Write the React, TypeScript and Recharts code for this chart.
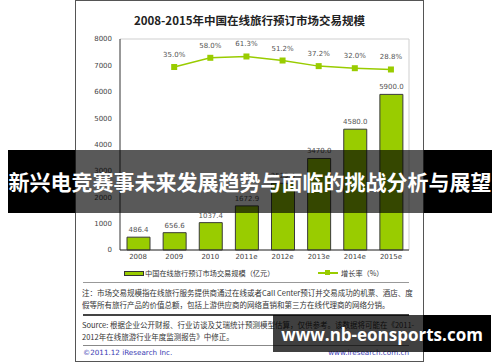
import {
  ComposedChart,
  Bar,
  Line,
  XAxis,
  YAxis,
  CartesianGrid,
  LabelList,
} from "recharts";

const years = ["2008", "2009", "2010", "2011e", "2012e", "2013e", "2014e", "2015e"];
const marketSize = [486.4, 656.6, 1037.4, 1672.9, 2529.4, 3470.0, 4580.0, 5900.0];
const growthRate = [null, 35.0, 58.0, 61.3, 51.2, 37.2, 32.0, 28.8];
const yTicks = [0, 1000, 2000, 3000, 4000, 5000, 6000, 7000, 8000];

const GREEN = "#99cc00";
const FONT = "'DejaVu Sans', 'Noto Sans CJK SC', sans-serif";
const CJK = "'Noto Sans CJK SC', 'DejaVu Sans', sans-serif";

const data = years.map((y, i) => ({
  name: y,
  size: marketSize[i],
  rate: growthRate[i],
}));

// small square markers like the original
const SquareDot = (props: any) => {
  const { cx, cy, value } = props;
  if (value == null || cx == null || cy == null) return null;
  return <rect x={cx - 3} y={cy - 3} width={6} height={6} fill={GREEN} />;
};

const abs = (s: React.CSSProperties): React.CSSProperties => ({ position: "absolute", ...s });

export default function App() {
  return (
    <div
      style={abs({
        left: 0,
        top: 0,
        width: 500,
        height: 362,
        background: "#fff",
        overflow: "hidden",
        fontFamily: CJK,
      })}
    >
      {/* outer frame */}
      <div style={abs({ left: 75, top: 0, width: 347, height: 360, border: "1px solid #555" })} />

      <div
        style={abs({
          left: 75,
          width: 349,
          top: 12,
          textAlign: "center",
          fontSize: 11.5,
          fontWeight: 600,
          color: "#222",
          lineHeight: "16px",
        })}
      >
        2008-2015年中国在线旅行预订市场交易规模
      </div>

      <div style={abs({ left: 0, top: 0 })}>
        <ComposedChart
          width={500}
          height={362}
          data={data}
          margin={{ top: 39, right: 91, left: 0, bottom: 82 }}
        >
          <CartesianGrid
            vertical={true}
            verticalPoints={[409]}
            stroke="#cfcfcf"
          />
          <XAxis
            dataKey="name"
            axisLine={{ stroke: "#333" }}
            tickLine={false}
            tickSize={2}
            tickMargin={2}
            tick={{ fill: "#444", fontSize: 7, fontFamily: FONT }}
            interval={0}
          />
          <YAxis
            yAxisId="left"
            width={120}
            domain={[0, 8000]}
            ticks={yTicks}
            axisLine={{ stroke: "#333" }}
            tickLine={false}
            tick={{ fill: "#444", fontSize: 7, fontFamily: FONT }}
          />
          <YAxis yAxisId="right" orientation="right" hide domain={[-422.5, 105]} />
          <Bar
            yAxisId="left"
            dataKey="size"
            fill={GREEN}
            stroke="#3a3a3a"
            strokeWidth={1}
            barSize={23}
            isAnimationActive={false}
          >
            <LabelList
              dataKey="size"
              position="top"
              offset={5}
              formatter={(v: any) => Number(v).toFixed(1)}
              style={{ fill: "#555", fontSize: 7, fontFamily: FONT }}
            />
          </Bar>
          <Line
            yAxisId="right"
            dataKey="rate"
            stroke={GREEN}
            strokeWidth={1.5}
            dot={<SquareDot />}
            activeDot={false}
            isAnimationActive={false}
          >
            <LabelList
              dataKey="rate"
              position="top"
              offset={10}
              formatter={(v: any) => (v == null ? "" : `${Number(v).toFixed(1)}%`)}
              style={{ fill: "#555", fontSize: 7, fontFamily: FONT }}
            />
          </Line>
        </ComposedChart>
      </div>

      {/* legend */}
      <div style={abs({ left: 124, top: 271, width: 18, height: 3, background: GREEN, border: "1px solid #333" })} />
      <div style={abs({ left: 145, top: 267, fontSize: 7.2, color: "#333", lineHeight: "12px" })}>
        中国在线旅行预订市场交易规模（亿元）
      </div>
      <div style={abs({ left: 318, top: 272, width: 20, height: 1.5, background: GREEN })} />
      <div style={abs({ left: 325, top: 270, width: 5, height: 5, background: GREEN })} />
      <div style={abs({ left: 341, top: 267, fontSize: 7.2, color: "#333", lineHeight: "12px" })}>
        增长率（%）
      </div>

      {/* notes */}
      <div style={abs({ left: 83, top: 282, width: 326, height: 1, background: "#999" })} />
      <div style={abs({ left: 82, top: 287, fontSize: 7.5, color: "#333", lineHeight: "12px", whiteSpace: "nowrap" })}>
        注：市场交易规模指在线旅行服务提供商通过在线或者Call Center预订并交易成功的机票、酒店、度
        <br />
        假等所有旅行产品的价值总额，包括上游供应商的网络直销和第三方在线代理商的网络分销。
      </div>
      <div style={abs({ left: 83, top: 314, width: 326, height: 1.5, background: "#444" })} />
      <div style={abs({ left: 82, top: 319, fontSize: 7.5, color: "#333", lineHeight: "11.5px", whiteSpace: "nowrap" })}>
        Source: 根据企业公开财报、行业访谈及艾瑞统计预测模型估算，仅供参考。该数据将可能在《2011-
        <br />
        2012年在线旅游行业年度监测报告》中修正。
      </div>
      <div style={abs({ left: 83, top: 345, width: 326, height: 1, background: "#888" })} />
      <div style={abs({ left: 83, top: 347, fontSize: 7.2, color: "#3b3bb3", lineHeight: "12px", fontFamily: FONT })}>
        ©2011.12 iResearch Inc.
      </div>
      <div style={abs({ left: 300, width: 109, top: 347, textAlign: "right", fontSize: 7.2, color: "#3b3bb3", lineHeight: "12px", fontFamily: FONT })}>
        www.iresearch.com.cn
      </div>

      {/* banner overlay */}
      <div style={abs({ left: 8, top: 150, width: 67, height: 63, background: "#000" })} />
      <div style={abs({ left: 75, top: 150, width: 349, height: 63, background: "rgba(0,0,0,0.65)" })} />
      <div style={abs({ left: 424, top: 150, width: 68, height: 63, background: "#000" })} />
      <div
        style={abs({
          left: 8,
          top: 150,
          width: 484,
          height: 63,
          lineHeight: "63px",
          textAlign: "center",
          color: "#fff",
          fontSize: 21,
          fontWeight: 700,
          whiteSpace: "nowrap",
        })}
      >
        新兴电竞赛事未来发展趋势与面临的挑战分析与展望
      </div>

      {/* watermark */}
      <div style={abs({ left: 273, top: 315, width: 150, height: 37, background: "rgba(0,0,0,0.75)" })} />
      <div style={abs({ left: 423, top: 315, width: 68, height: 37, background: "#000" })} />
      <div
        style={abs({
          left: 273,
          top: 315,
          width: 218,
          height: 37,
          lineHeight: "40px",
          textAlign: "center",
          color: "#fff",
          fontSize: 17,
          fontWeight: 700,
          fontFamily: "'Open Sans', 'DejaVu Sans', sans-serif",
          whiteSpace: "nowrap",
        })}
      >
        www.nb-eonsports.com
      </div>
    </div>
  );
}
